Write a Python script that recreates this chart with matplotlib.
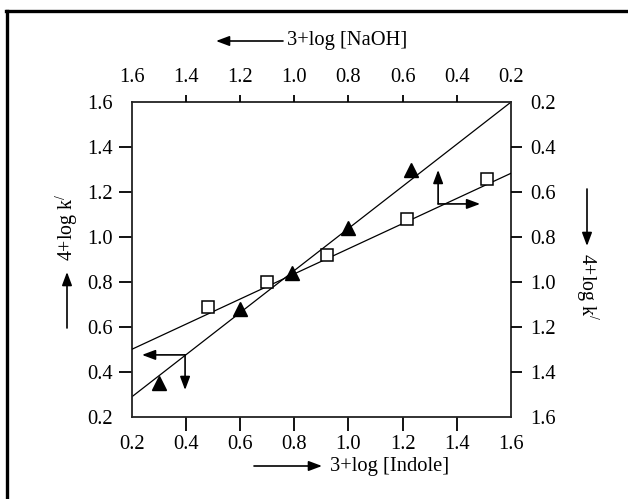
import matplotlib as mpl
mpl.use('Agg')
import matplotlib.pyplot as plt
from matplotlib.lines import Line2D
import numpy as np

# Triangles: 4+log k' vs 3+log [Indole] (bottom / left axes)
indole_x = [0.30, 0.60, 0.79, 1.00, 1.23]
indole_y = [0.35, 0.68, 0.84, 1.04, 1.30]
indole_fit = (0.936, 0.102)  # slope, intercept

# Squares: 4+log k' vs 3+log [NaOH] (top / right axes, both reversed)
naoh_x = [1.32, 1.10, 0.88, 0.585, 0.29]
naoh_y = [1.11, 1.00, 0.88, 0.72, 0.54]
naoh_fit = (0.559, 0.405)

ticks = [0.2, 0.4, 0.6, 0.8, 1.0, 1.2, 1.4, 1.6]
tick_labels = ['0.2', '0.4', '0.6', '0.8', '1.0', '1.2', '1.4', '1.6']

W, H = 628, 499


def fx(px):
    return px / W


def fy(py):
    return 1 - py / H


def hide_corner_ticks(axis):
    t = axis.get_major_ticks()
    for tk in (t[0], t[-1]):
        tk.tick1line.set_visible(False)
        tk.tick2line.set_visible(False)


def main():
    mpl.rcParams['font.family'] = 'Liberation Serif'
    mpl.rcParams['mathtext.fontset'] = 'custom'
    mpl.rcParams['mathtext.rm'] = 'Liberation Serif'
    mpl.rcParams['mathtext.it'] = 'Liberation Serif:italic'
    fs = 14.8

    fig = plt.figure(figsize=(W / 100, H / 100), dpi=100)
    pos = [fx(131.7), fy(417), fx(511) - fx(131.7), fy(102) - fy(417)]

    ax = fig.add_axes(pos)
    ax2 = fig.add_axes(pos, frameon=False)

    # bottom / left: indole
    ax.set_xlim(0.2, 1.6)
    ax.set_ylim(0.2, 1.6)
    xs = np.array([0.2, 1.6])
    ax.plot(xs, indole_fit[0] * xs + indole_fit[1], color='black', lw=0.9)
    ax.plot(indole_x, indole_y, '^', color='black', ms=10, ls='none')

    # top / right: NaOH
    ax2.set_xlim(1.6, 0.2)
    ax2.set_ylim(1.6, 0.2)
    ax2.plot(xs, naoh_fit[0] * xs + naoh_fit[1], color='black', lw=0.9)
    ax2.plot(naoh_x, naoh_y, 's', mfc='white', mec='black', mew=1.1, ms=9, ls='none')

    for a in (ax, ax2):
        a.set_xticks(ticks, tick_labels)
        a.set_yticks(ticks, tick_labels)
    for s in ax.spines.values():
        s.set_linewidth(1.3)
        s.set_color('#222222')

    ax.tick_params(axis='x', direction='out', length=10, width=1.3, pad=3, labelsize=fs)
    ax.tick_params(axis='y', direction='out', length=9.5, width=1.3, pad=4, labelsize=fs)
    ax2.xaxis.tick_top()
    ax2.yaxis.tick_right()
    ax2.tick_params(axis='x', direction='out', length=5, width=1.3, pad=6, labelsize=fs)
    ax2.tick_params(axis='y', direction='out', length=8, width=1.3, pad=6, labelsize=fs)
    for axis in (ax.xaxis, ax.yaxis, ax2.xaxis, ax2.yaxis):
        hide_corner_ticks(axis)

    arrow = dict(arrowstyle='-|>,head_length=0.8,head_width=0.3', color='black', lw=1.2,
                 shrinkA=0, shrinkB=0)
    # arrows on the lines showing which axes they belong to
    ax.annotate('', xy=(0.238, 0.476), xytext=(0.397, 0.476), arrowprops=arrow)
    ax.annotate('', xy=(0.397, 0.32), xytext=(0.397, 0.476), arrowprops=arrow)
    ax2.annotate('', xy=(0.469, 0.502), xytext=(0.469, 0.653), arrowprops=arrow)
    ax2.annotate('', xy=(0.314, 0.653), xytext=(0.469, 0.653), arrowprops=arrow)

    # axis titles with their arrows
    ff = 'figure fraction'
    fig.text(fx(287), fy(41), '3+log [NaOH]', fontsize=fs, ha='left', va='center')
    fig.text(fx(330), fy(466), '3+log [Indole]', fontsize=fs, ha='left', va='center')
    fig.text(fx(67), fy(227), "4+log k$^{/}$", fontsize=fs - 0.5, rotation=90, ha='center', va='center')
    fig.text(fx(587), fy(287), "4+log k$^{/}$", fontsize=fs - 0.5, rotation=270, ha='center', va='center')
    ax.annotate('', xy=(fx(216), fy(41)), xytext=(fx(283), fy(41)), xycoords=ff, arrowprops=arrow)
    ax.annotate('', xy=(fx(322), fy(466)), xytext=(fx(254), fy(466)), xycoords=ff, arrowprops=arrow)
    ax.annotate('', xy=(fx(67), fy(272)), xytext=(fx(67), fy(328)), xycoords=ff, arrowprops=arrow)
    ax.annotate('', xy=(fx(587), fy(246)), xytext=(fx(587), fy(189)), xycoords=ff, arrowprops=arrow)

    # frame around the figure (only top and left show in the crop)
    fig.add_artist(Line2D([fx(7), fx(7)], [0, fy(11)], color='black', lw=2.4))
    fig.add_artist(Line2D([fx(6), 1], [fy(11), fy(11)], color='black', lw=2.4))

    plt.savefig('out.png', dpi=100)


if __name__ == '__main__':
    main()
